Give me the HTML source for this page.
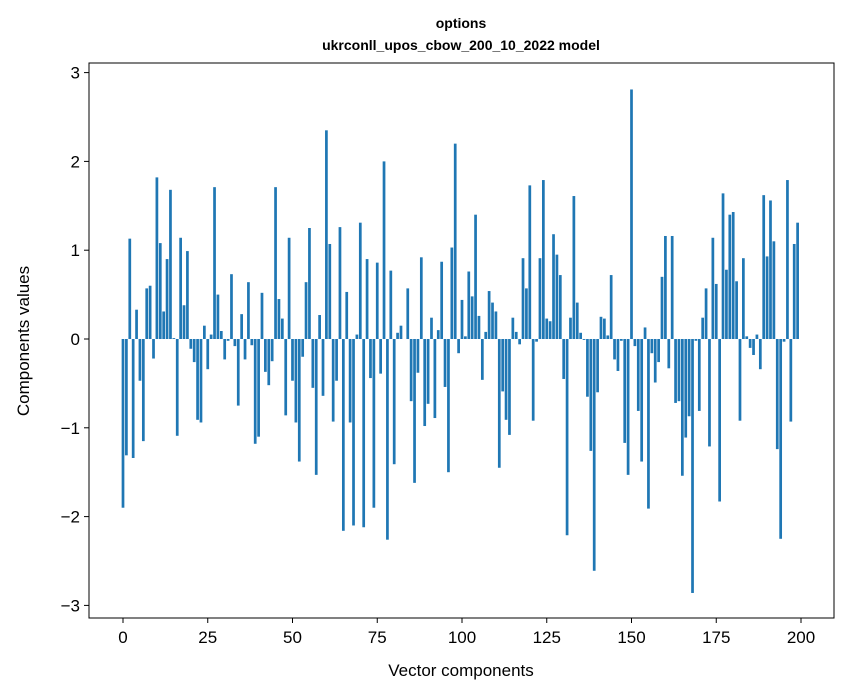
<!DOCTYPE html>
<html><head><meta charset="utf-8"><style>
body{margin:0;background:#fff;}
svg{display:block;font-family:"Liberation Sans",sans-serif;}
</style></head><body>
<svg id="chart" width="847" height="696" viewBox="0 0 847 696">
<rect width="847" height="696" fill="#fff"/>
<text x="461" y="28" text-anchor="middle" font-size="14" font-weight="bold">options</text>
<text x="461" y="50" text-anchor="middle" font-size="14" font-weight="bold">ukrconll_upos_cbow_200_10_2022 model</text>
<g id="bars"></g>
<rect x="89" y="63" width="745" height="555" fill="none" stroke="#000" stroke-width="1"/>
<g id="yticks"></g>
<g id="xticks"></g>
<text x="461" y="676" text-anchor="middle" font-size="17">Vector components</text>
<text transform="translate(29,341) rotate(-90)" text-anchor="middle" font-size="17">Components values</text>
</svg>
<script>
const values = [-1.90,-1.31,1.13,-1.34,0.33,-0.47,-1.15,0.57,0.60,-0.22,1.82,1.08,0.31,0.90,1.68,0.01,-1.09,1.14,0.38,0.99,-0.11,-0.26,-0.91,-0.94,0.15,
-0.34,0.05,1.71,0.50,0.09,-0.23,-0.02,0.73,-0.08,-0.75,0.28,-0.23,0.64,-0.07,-1.18,-1.10,0.52,-0.37,-0.52,-0.25,1.71,0.45,0.23,-0.86,1.14,
-0.47,-0.94,-1.38,-0.20,0.64,1.25,-0.55,-1.53,0.27,-0.64,2.35,1.07,-0.93,-0.47,1.26,-2.16,0.53,-0.94,-2.10,0.05,1.31,-2.12,0.90,-0.44,-1.90,
0.86,-0.39,2.00,-2.26,0.77,-1.41,0.07,0.15,0.00,0.57,-0.70,-1.62,-0.38,0.92,-0.98,-0.73,0.24,-0.89,0.10,0.87,-0.54,-1.50,1.03,2.20,-0.16,
0.44,0.03,0.76,0.48,1.40,0.26,-0.46,0.08,0.54,0.41,0.31,-1.45,-0.59,-0.91,-1.08,0.24,0.08,-0.06,0.91,0.57,1.73,-0.92,-0.03,0.91,1.79,
0.23,0.20,1.18,0.95,0.72,-0.45,-2.21,0.24,1.61,0.41,0.07,-0.01,-0.65,-1.26,-2.61,-0.60,0.25,0.23,0.04,0.72,-0.23,-0.36,-0.02,-1.17,-1.53,
2.81,-0.08,-0.81,-1.38,0.13,-1.91,-0.16,-0.49,-0.26,0.70,1.16,-0.33,1.16,-0.72,-0.70,-1.54,-1.11,-0.87,-2.86,-0.02,-0.81,0.24,0.57,-1.21,1.14,
0.62,-1.83,1.64,0.78,1.40,1.43,0.65,-0.92,0.91,0.03,-0.10,-0.18,0.05,-0.34,1.62,0.93,1.56,1.10,-1.24,-2.25,-0.03,1.79,-0.93,1.07,1.31];
const yTicks = [-3,-2,-1,0,1,2,3];
const yTickLabels = ["\u22123","\u22122","\u22121","0","1","2","3"];
const xTicks = [0,25,50,75,100,125,150,175,200];
const NS = "http://www.w3.org/2000/svg";
function xs(i){ return 123 + i*3.39; }
function ys(v){ return 339 - v*88.8; }
const bars = document.getElementById('bars');
values.forEach((v,i)=>{
  const r = document.createElementNS(NS,'rect');
  
  
  const y0 = ys(0), y1 = ys(v);
  r.setAttribute('x', xs(i)-1.36);
  r.setAttribute('width', 2.72);
  r.setAttribute('y', Math.min(y0,y1));
  r.setAttribute('height', Math.abs(y1-y0));
  r.setAttribute('fill', '#1f77b4');
  bars.appendChild(r);
});
const yg = document.getElementById('yticks');
yTicks.forEach((t,k)=>{
  const y = ys(t);
  const l = document.createElementNS(NS,'line');
  
  
  l.setAttribute('x1',84); l.setAttribute('x2',89); l.setAttribute('y1',y); l.setAttribute('y2',y);
  l.setAttribute('stroke','#000');
  yg.appendChild(l);
  const tx = document.createElementNS(NS,'text');
  
  
  tx.setAttribute('x',80); tx.setAttribute('y',y+6);
  tx.setAttribute('text-anchor','end'); tx.setAttribute('font-size','17');
  tx.textContent = yTickLabels[k];
  yg.appendChild(tx);
});
const xg = document.getElementById('xticks');
xTicks.forEach(t=>{
  const x = xs(t);
  const l = document.createElementNS(NS,'line');
  
  
  l.setAttribute('x1',x); l.setAttribute('x2',x); l.setAttribute('y1',618); l.setAttribute('y2',623);
  l.setAttribute('stroke','#000');
  xg.appendChild(l);
  const tx = document.createElementNS(NS,'text');
  
  
  tx.setAttribute('x',x); tx.setAttribute('y',643);
  tx.setAttribute('text-anchor','middle'); tx.setAttribute('font-size','17');
  tx.textContent = String(t);
  xg.appendChild(tx);
});
</script>
</body></html>
